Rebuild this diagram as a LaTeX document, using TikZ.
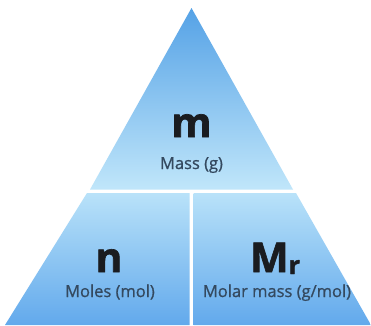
\documentclass[tikz,border=0pt]{standalone}
\usepackage{fontspec}
\setmainfont{Open Sans}
\newfontfamily\symfont[BoldFeatures={FakeBold=1.6}]{Open Sans}
\newfontfamily\labfont[FakeBold=0.9]{Open Sans}
\usetikzlibrary{shadings}
\definecolor{topdark}{HTML}{55A2E6}
\definecolor{toplight}{HTML}{C0E6FA}
\definecolor{lowlight}{HTML}{B9E2F9}
\definecolor{lowdark}{HTML}{62A9EC}
\definecolor{labelcol}{HTML}{34495F}
\definecolor{symcol}{HTML}{1A1C20}
\tikzset{
  x=1pt, y=-1pt,
  sym/.style={anchor=base, inner sep=0pt, text=symcol, font=\symfont\fontsize{41}{41}\selectfont\bfseries},
  lab/.style={anchor=base, inner sep=0pt, text=labelcol, font=\labfont\fontsize{16.5}{16.5}\selectfont},
}
\begin{document}
\begin{tikzpicture}
\useasboundingbox (0,0) rectangle (371,325);
\fill[white] (0,0) rectangle (371,325);
% top triangle
\shade[top color=topdark, bottom color=toplight] (191.5,8) -- (293,189.5) -- (90,189.5) -- cycle;
% lower left
\shade[top color=lowlight, bottom color=lowdark] (87,193) -- (189.5,193) -- (189.5,325) -- (5,325) -- cycle;
% lower right
\shade[top color=lowlight, bottom color=lowdark] (193.5,193) -- (296,193) -- (371,325) -- (193.5,325) -- cycle;
% symbols and labels
\node[sym] (m) at (191.5,137) {m};
\node[lab] (mass) at (191.5,169) {Mass (g)};
\node[sym] (n) at (109,272) {n};
\node[lab] (moles) at (110,297) {Moles (mol)};
\node[sym] (Mr) at (275,272) {M\raisebox{-2pt}{\fontsize{25}{25}\selectfont r}};
\node[lab] (molar) at (277,297) {Molar mass (g/mol)};
\end{tikzpicture}
\end{document}
